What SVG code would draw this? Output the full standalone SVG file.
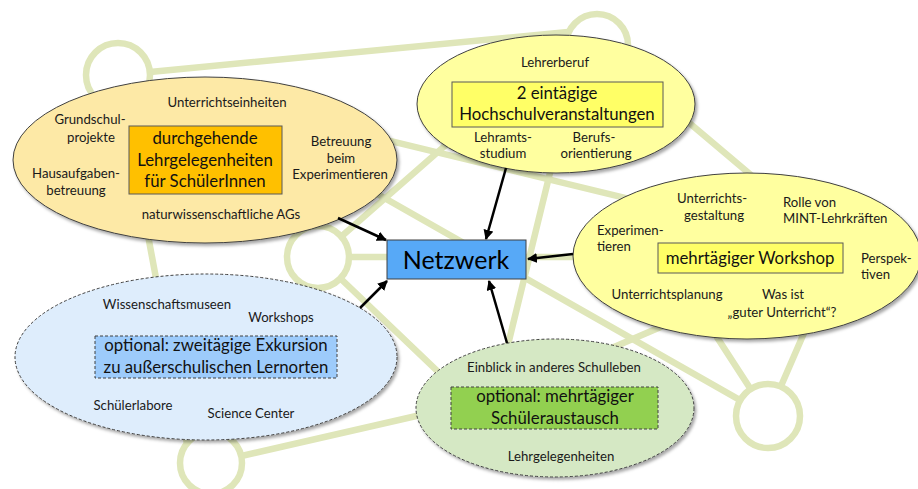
<svg xmlns="http://www.w3.org/2000/svg" width="918" height="489" viewBox="0 0 918 489">
<defs>
<style>
.net{stroke:#dfe6b9;stroke-width:6.5;fill:none;stroke-linecap:round}
.ring{stroke:#dfe6b9;stroke-width:6.5;fill:#ffffff}
.ell{stroke:#404040;stroke-width:1}
.dash{stroke:#404040;stroke-width:1;stroke-dasharray:3 2}
.box{stroke:#595959;stroke-width:1}
.lbl{font-family:Lato,"Liberation Sans",sans-serif;font-size:13.2px;fill:#1a1a1a}
.big{font-family:Lato,"Liberation Sans",sans-serif;font-size:16.8px;fill:#111111;text-anchor:middle}
.c{text-anchor:middle}
.arr{stroke:#000000;stroke-width:2.5;fill:none;marker-end:url(#ah)}
</style>
<marker id="ah" viewBox="0 0 10 10" refX="9" refY="5" markerWidth="4" markerHeight="4" orient="auto" markerUnits="strokeWidth">
<path d="M0,0 L10,5 L0,10 z" fill="#000000"/>
</marker>
<filter id="sh" x="-10%" y="-10%" width="125%" height="130%">
<feDropShadow dx="2" dy="2.5" stdDeviation="1.8" flood-color="#000000" flood-opacity="0.35"/>
</filter>
</defs>
<rect width="918" height="489" fill="#ffffff"/>
<g id="network-background">
<line class="net" x1="150" y1="72" x2="568" y2="32"/>
<line class="net" x1="118" y1="75" x2="840" y2="250"/>
<line class="net" x1="118" y1="75" x2="190" y2="460"/>
<line class="net" x1="300" y1="150" x2="768" y2="416"/>
<line class="net" x1="318" y1="257" x2="520" y2="80"/>
<line class="net" x1="318" y1="257" x2="665" y2="257"/>
<line class="net" x1="318" y1="257" x2="520" y2="450"/>
<line class="net" x1="597" y1="45" x2="840" y2="250"/>
<line class="net" x1="580" y1="50" x2="495" y2="398"/>
<line class="net" x1="665" y1="257" x2="768" y2="416"/>
<line class="net" x1="840" y1="250" x2="768" y2="416"/>
<line class="net" x1="840" y1="250" x2="495" y2="398"/>
<line class="net" x1="211" y1="463" x2="495" y2="398"/>
<circle class="ring" cx="118" cy="75" r="32"/>
<circle class="ring" cx="597" cy="45" r="31"/>
<circle class="ring" cx="318" cy="257" r="31"/>
<circle class="ring" cx="211" cy="463" r="31"/>
<circle class="ring" cx="768" cy="416" r="32"/>
</g>
<g id="node-lehrgelegenheiten">
<ellipse class="ell" cx="205" cy="160" rx="192" ry="83" fill="#fde9a6" filter="url(#sh)"/>
<rect class="box" x="129" y="126" width="153" height="68" fill="#ffc000"/>
<text class="big" x="205" y="144">durchgehende</text>
<text class="big" x="205" y="166">Lehrgelegenheiten</text>
<text class="big" x="205" y="187">für SchülerInnen</text>
<text class="lbl c" x="227" y="107">Unterrichtseinheiten</text>
<text class="lbl c" x="90" y="124">Grundschul-</text>
<text class="lbl c" x="91" y="142">projekte</text>
<text class="lbl c" x="76" y="178">Hausaufgaben-</text>
<text class="lbl c" x="76" y="195">betreuung</text>
<text class="lbl c" x="341" y="146">Betreuung</text>
<text class="lbl c" x="341" y="163">beim</text>
<text class="lbl c" x="340" y="179">Experimentieren</text>
<text class="lbl c" x="221" y="219">naturwissenschaftliche AGs</text>
</g>
<g id="node-hochschul">
<ellipse class="ell" cx="556" cy="104" rx="139" ry="69" fill="#ffff9f" filter="url(#sh)"/>
<rect class="box" x="452" y="82" width="211" height="45" fill="#ffff66"/>
<text class="big" x="557" y="99">2 eintägige</text>
<text class="big" x="557" y="120">Hochschulveranstaltungen</text>
<text class="lbl c" x="555" y="67">Lehrerberuf</text>
<text class="lbl c" x="503" y="142">Lehramts-</text>
<text class="lbl c" x="503" y="158">studium</text>
<text class="lbl c" x="594" y="142">Berufs-</text>
<text class="lbl c" x="596" y="158">orientierung</text>
</g>
<g id="node-workshop">
<ellipse class="ell" cx="747" cy="256" rx="174" ry="83" fill="#ffff9f" filter="url(#sh)"/>
<rect class="box" x="658" y="243" width="185" height="30" fill="#ffff66"/>
<text class="big" x="750" y="264">mehrtägiger Workshop</text>
<text class="lbl c" x="712" y="203">Unterrichts-</text>
<text class="lbl c" x="714" y="220">gestaltung</text>
<text class="lbl" x="783" y="207">Rolle von</text>
<text class="lbl" x="783" y="223">MINT-Lehrkräften</text>
<text class="lbl" x="597" y="235">Experimen-</text>
<text class="lbl" x="597" y="251">tieren</text>
<text class="lbl" x="861" y="263">Perspek-</text>
<text class="lbl" x="861" y="279">tiven</text>
<text class="lbl c" x="667" y="299">Unterrichtsplanung</text>
<text class="lbl c" x="783" y="299">Was ist</text>
<text class="lbl c" x="782" y="317">„guter Unterricht“?</text>
</g>
<g id="node-exkursion">
<ellipse class="dash" cx="206" cy="357" rx="191" ry="83" fill="#deedfc" filter="url(#sh)"/>
<rect class="dash" x="95" y="336" width="242" height="42" fill="#9dcbfb"/>
<text class="big" x="216" y="351">optional: zweitägige Exkursion</text>
<text class="big" x="216" y="373">zu außerschulischen Lernorten</text>
<text class="lbl c" x="167" y="309">Wissenschaftsmuseen</text>
<text class="lbl c" x="281" y="322">Workshops</text>
<text class="lbl c" x="133" y="410">Schülerlabore</text>
<text class="lbl c" x="251" y="418">Science Center</text>
</g>
<g id="node-austausch">
<ellipse class="dash" cx="555" cy="408" rx="139" ry="69" fill="#d5e8c4" filter="url(#sh)"/>
<rect class="dash" x="451" y="387" width="207" height="42" fill="#92d050"/>
<text class="big" x="555" y="402">optional: mehrtägiger</text>
<text class="big" x="555" y="424">Schüleraustausch</text>
<text class="lbl c" x="554" y="372">Einblick in anderes Schulleben</text>
<text class="lbl c" x="561" y="461">Lehrgelegenheiten</text>
</g>
<g id="node-netzwerk">
<rect x="387" y="240" width="139" height="39" fill="#57a9f7" stroke="#404040" stroke-width="1"/>
<text x="456" y="269" font-family="Lato,'Liberation Sans',sans-serif" font-size="25" fill="#000000" text-anchor="middle">Netzwerk</text>
</g>
<g id="connectors">
<line class="arr" x1="338" y1="218" x2="386" y2="240"/>
<line class="arr" x1="506" y1="168" x2="486" y2="239"/>
<line class="arr" x1="573" y1="254" x2="528" y2="259"/>
<line class="arr" x1="360" y1="308" x2="387" y2="281"/>
<line class="arr" x1="507" y1="343" x2="489" y2="281"/>
</g>
</svg>
